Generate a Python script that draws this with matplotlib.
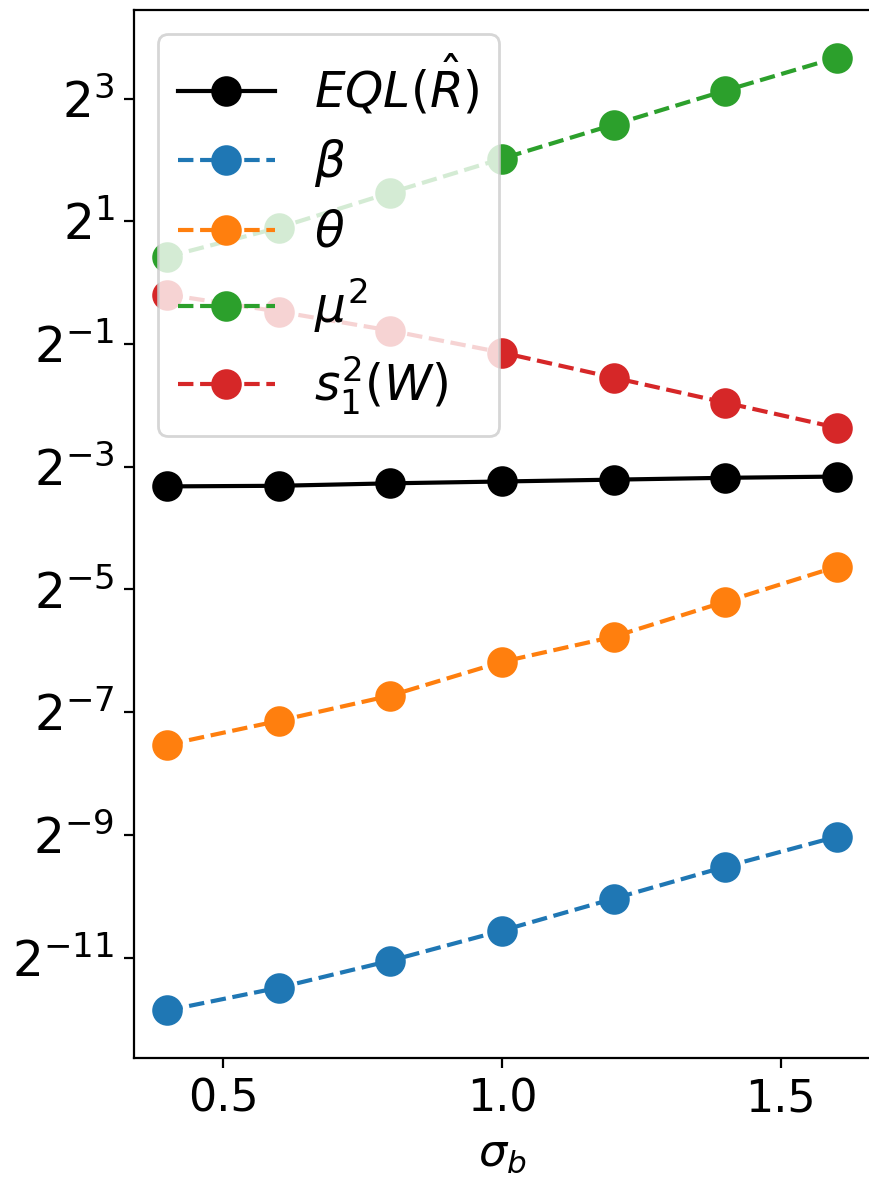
import matplotlib
matplotlib.use("Agg")
import matplotlib.pyplot as plt
import numpy as np
from matplotlib.ticker import LogFormatterMathtext, NullLocator

# x values (sigma_b)
sigma_b = [0.4, 0.6, 0.8, 1.0, 1.2, 1.4, 1.6]

# log2 of each series
eql_log2 = [-3.32, -3.31, -3.27, -3.24, -3.21, -3.18, -3.16]
beta_log2 = [-11.86, -11.49, -11.05, -10.56, -10.04, -9.52, -9.03]
theta_log2 = [-7.53, -7.14, -6.73, -6.18, -5.77, -5.20, -4.63]
mu2_log2 = [0.425, 0.898, 1.468, 2.022, 2.576, 3.13, 3.668]
s1_log2 = [-0.194, -0.471, -0.781, -1.139, -1.547, -1.954, -2.362]

labels = [r"$EQL(\hat{R})$", r"$\beta$", r"$\theta$", r"$\mu^2$", r"$s_1^2(W)$"]


def to_vals(lg):
    """
    Turns log2 readings back into values
    """
    return [2.0**v for v in lg]


if __name__ == "__main__":
    plt.rcParams["font.size"] = 16
    fig = plt.figure(figsize=(4.345, 5.9), dpi=200)
    ax = fig.add_axes([0.1542, 0.1034, 0.847, 0.8881])

    ax.plot(sigma_b, to_vals(eql_log2), "-o", color="black", markersize=10, label=labels[0])
    ax.plot(sigma_b, to_vals(beta_log2), "--o", color="C0", markersize=10, label=labels[1])
    ax.plot(sigma_b, to_vals(theta_log2), "--o", color="C1", markersize=10, label=labels[2])
    ax.plot(sigma_b, to_vals(mu2_log2), "--o", color="C2", markersize=10, label=labels[3])
    ax.plot(sigma_b, to_vals(s1_log2), "--o", color="C3", markersize=10, label=labels[4])

    ax.set_yscale("log", base=2)
    ax.set_yticks([2.0**k for k in range(-11, 4, 2)])
    ax.yaxis.set_major_formatter(LogFormatterMathtext(base=2))
    ax.yaxis.set_minor_locator(NullLocator())
    ax.tick_params(axis="y", labelsize=17.5)
    ax.set_xticks([0.5, 1.0, 1.5])
    ax.set_xlabel(r"$\sigma_b$")
    ax.legend(loc="upper left", fontsize=17.5, labelspacing=0.4)

    fig.savefig("out.png", dpi=200)
